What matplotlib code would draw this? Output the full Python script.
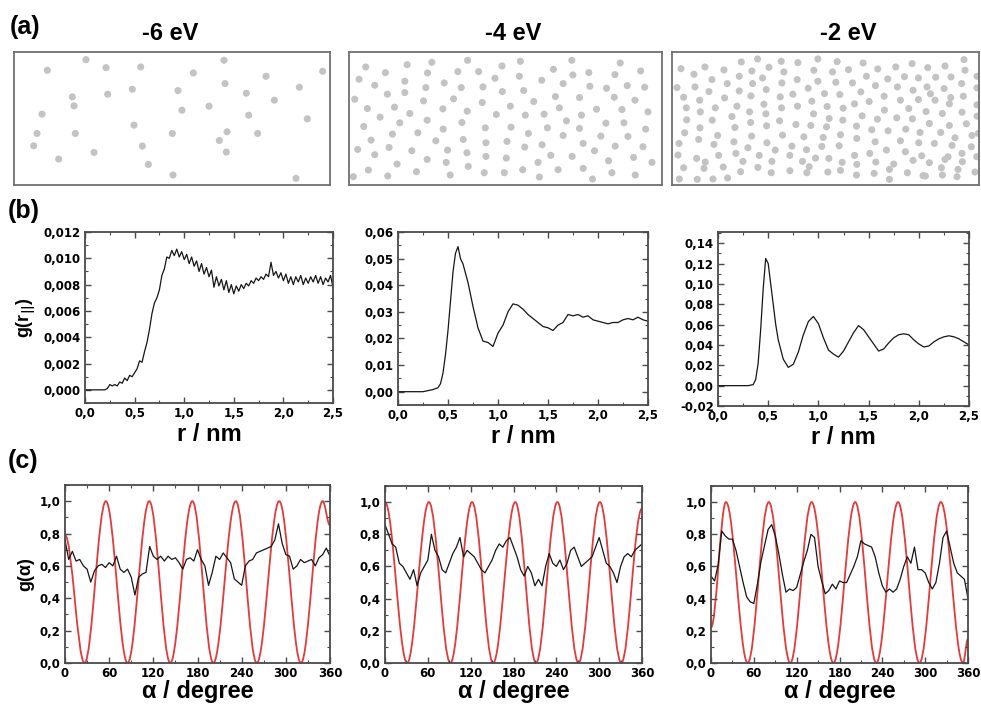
import matplotlib
matplotlib.use('Agg')
import matplotlib.pyplot as plt
from matplotlib.path import Path
from matplotlib.patches import PathPatch
from matplotlib.ticker import AutoMinorLocator

plt.rcParams['font.family'] = ['Liberation Sans', 'DejaVu Sans']
plt.rcParams['font.weight'] = 'bold'
plt.rcParams['axes.labelweight'] = 'bold'
plt.rcParams['mathtext.default'] = 'bf'

# ---- (a) particle snapshots, positions in picture units (x right, y down) ----
dots_6ev = [(142, 210), (258, 178), (318, 202), (422, 200), (580, 218), (672, 180), (798, 228), (968, 213),
            (675, 250), (898, 261), (397, 267), (534, 271), (323, 282), (739, 279), (217, 290), (823, 300),
            (222, 317), (627, 318), (546, 330), (126, 342), (746, 345), (922, 356), (402, 375),
            (111, 400), (226, 400), (517, 400), (681, 395), (773, 400), (658, 421), (101, 437), (427, 438),
            (282, 457), (679, 456), (176, 477), (445, 493), (519, 525), (888, 535)]

dots_4ev = [(78, 200), (202, 193), (276, 186), (383, 180), (486, 197), (541, 183), (695, 180), (840, 188),
            (137, 217), (263, 218), (354, 214), (416, 214), (640, 207), (698, 224), (746, 217), (824, 223), (901, 212),
            (58, 237), (195, 243), (465, 234), (538, 228), (605, 240),
            (105, 255), (258, 262), (313, 248), (364, 262), (429, 260), (669, 250), (749, 258), (799, 264), (861, 256), (913, 261),
            (143, 282), (195, 277), (487, 274), (551, 271), (646, 289),
            (45, 297), (251, 302), (341, 296), (427, 307), (581, 304), (718, 292), (822, 291), (884, 300),
            (83, 325), (164, 321), (309, 326), (511, 318), (658, 323), (769, 327), (845, 328), (923, 335),
            (210, 340), (382, 333), (469, 343), (556, 345), (612, 342), (724, 345), (121, 351),
            (180, 368), (262, 360), (366, 367), (679, 362), (797, 369), (851, 368),
            (72, 379), (310, 387), (436, 383), (513, 381), (622, 383), (718, 385), (916, 387),
            (158, 402), (234, 398), (565, 400), (669, 406), (782, 408), (863, 409),
            (94, 420), (288, 422), (370, 418), (438, 428), (501, 424), (729, 430), (825, 438),
            (54, 448), (148, 442), (216, 452), (323, 450), (554, 441), (606, 434), (763, 452), (908, 440),
            (105, 464), (381, 458), (438, 469), (499, 474), (632, 466), (696, 469), (880, 472),
            (172, 492), (262, 478), (319, 487), (385, 499), (594, 487), (805, 482), (935, 487),
            (86, 510), (230, 515), (548, 509), (654, 509), (729, 505), (815, 518), (885, 525),
            (41, 530), (144, 528), (331, 525), (433, 518), (493, 518), (598, 531), (757, 537)]

dots_2ev = [(228, 185), (277, 176), (348, 183), (398, 187), (458, 176), (516, 184), (594, 188), (692, 200),
            (741, 190), (788, 202), (840, 197), (897, 178),
            (47, 205), (119, 200), (176, 209), (260, 212), (311, 201), (356, 215), (446, 210), (502, 215),
            (550, 208), (638, 206), (900, 210),
            (86, 222), (222, 228), (292, 233), (396, 238), (458, 243), (604, 228), (668, 236), (718, 229),
            (760, 233), (812, 231), (858, 230), (936, 228),
            (140, 238), (186, 250), (350, 248), (262, 250), (512, 246), (562, 248), (631, 256), (697, 260),
            (786, 260), (837, 265), (890, 250),
            (35, 262), (89, 260), (131, 274), (222, 272), (303, 268), (429, 264), (478, 280), (524, 283),
            (587, 275), (744, 270), (796, 281), (936, 263),
            (55, 291), (103, 300), (178, 293), (257, 287), (345, 290), (383, 282), (657, 288), (706, 300),
            (857, 292), (895, 288),
            (215, 318), (296, 312), (440, 303), (486, 319), (568, 311), (612, 304), (760, 298), (810, 300),
            (853, 311), (936, 314),
            (63, 323), (150, 323), (105, 335), (253, 335), (349, 323), (397, 318), (534, 324), (658, 330),
            (731, 325), (783, 334), (891, 336),
            (200, 349), (302, 341), (445, 341), (591, 347), (637, 357), (695, 353), (742, 356), (832, 340), (936, 348),
            (64, 359), (141, 360), (256, 367), (343, 362), (392, 373), (492, 355), (533, 360), (793, 370),
            (853, 376), (904, 371),
            (104, 383), (209, 382), (304, 377), (437, 376), (484, 380), (574, 378), (620, 389), (669, 392),
            (722, 387), (765, 397), (827, 397), (940, 400),
            (58, 398), (157, 406), (259, 408), (352, 405), (416, 410), (526, 404), (474, 412), (870, 413), (921, 406),
            (41, 430), (100, 418), (206, 425), (305, 428), (380, 438), (575, 415), (630, 425), (706, 422),
            (761, 428), (808, 430), (861, 436), (919, 440),
            (146, 433), (248, 443), (330, 450), (424, 449), (470, 439), (522, 437), (664, 450), (721, 455), (891, 460),
            (38, 465), (94, 475), (160, 466), (212, 460), (282, 466), (374, 466), (451, 474), (491, 475),
            (568, 466), (614, 460), (770, 467), (849, 470), (935, 470),
            (120, 486), (233, 484), (320, 484), (412, 484), (531, 487), (575, 493), (632, 486), (686, 492),
            (744, 481), (793, 488), (840, 478), (892, 485),
            (55, 503), (116, 505), (174, 501), (226, 515), (278, 502), (374, 512), (432, 500), (488, 516),
            (526, 511), (627, 520), (673, 508), (727, 518), (781, 528), (829, 503), (879, 508), (930, 516),
            (42, 537), (96, 538), (143, 537), (187, 534), (318, 518), (425, 518), (574, 525), (673, 538),
            (774, 527), (832, 525), (876, 530)]

energies = ['-6 eV', '-4 eV', '-2 eV']

# ---- (b) radial distribution g(r||) ----
r1 = [0.000, 0.025, 0.050, 0.075, 0.100, 0.125, 0.150, 0.175, 0.200, 0.225,
      0.250, 0.275, 0.300, 0.325, 0.350, 0.375, 0.400, 0.425, 0.450, 0.475,
      0.500, 0.525, 0.550, 0.575, 0.600, 0.625, 0.650, 0.675, 0.700, 0.725,
      0.750, 0.775, 0.800, 0.825, 0.850, 0.875, 0.900, 0.925, 0.950, 0.975,
      1.000, 1.025, 1.050, 1.075, 1.100, 1.125, 1.150, 1.175, 1.200, 1.225,
      1.250, 1.275, 1.300, 1.325, 1.350, 1.375, 1.400, 1.425, 1.450, 1.475,
      1.500, 1.525, 1.550, 1.575, 1.600, 1.625, 1.650, 1.675, 1.700, 1.725,
      1.750, 1.775, 1.800, 1.825, 1.850, 1.875, 1.900, 1.925, 1.950, 1.975,
      2.000, 2.025, 2.050, 2.075, 2.100, 2.125, 2.150, 2.175, 2.200, 2.225,
      2.250, 2.275, 2.300, 2.325, 2.350, 2.375, 2.400, 2.425, 2.450, 2.475, 2.500]
g1 = [0.0, 0.0, 0.0, 0.0, 0.0, 0.0, 0.0, 0.0, 0.0, 0.0001,
      0.0004, 0.0003, 0.0004, 0.0003, 0.0006, 0.0005, 0.0009, 0.0007, 0.0011, 0.0010,
      0.0013, 0.0016, 0.0022, 0.0021, 0.0029, 0.0036, 0.0046, 0.0058, 0.0066, 0.0070,
      0.0076, 0.0087, 0.0092, 0.0101, 0.0100, 0.0106, 0.0102, 0.0107, 0.0101, 0.0105,
      0.0099, 0.0103, 0.0096, 0.0101, 0.0094, 0.0098, 0.0090, 0.0096, 0.0088, 0.0093,
      0.0086, 0.0091, 0.0078, 0.0086, 0.0079, 0.0084, 0.0076, 0.0083, 0.0074, 0.0080,
      0.0073, 0.0079, 0.0075, 0.0080, 0.0077, 0.0081, 0.0079, 0.0083, 0.0081, 0.0085,
      0.0083, 0.0086, 0.0084, 0.0088, 0.0086, 0.0097, 0.0087, 0.0090, 0.0085, 0.0089,
      0.0083, 0.0088, 0.0081, 0.0086, 0.0080, 0.0086, 0.0082, 0.0087, 0.0080, 0.0085,
      0.0081, 0.0086, 0.0082, 0.0087, 0.0081, 0.0086, 0.0080, 0.0085, 0.0082, 0.0087, 0.0078]

r2 = [0.00, 0.05, 0.10, 0.15, 0.20, 0.25, 0.30, 0.35, 0.40, 0.425, 0.45, 0.475, 0.50, 0.525,
      0.55, 0.575, 0.60, 0.625, 0.65, 0.70, 0.75, 0.80, 0.85, 0.90, 0.95, 1.00, 1.05, 1.10,
      1.15, 1.20, 1.25, 1.30, 1.35, 1.40, 1.45, 1.50, 1.55, 1.60, 1.65, 1.70, 1.75, 1.80,
      1.85, 1.90, 1.95, 2.00, 2.05, 2.10, 2.15, 2.20, 2.25, 2.30, 2.35, 2.40, 2.45, 2.50]
g2 = [0.0, 0.0, 0.0, 0.0, 0.0, 0.0, 0.0004, 0.0008, 0.0015, 0.003, 0.007, 0.014, 0.023, 0.034,
      0.045, 0.052, 0.0545, 0.050, 0.048, 0.041, 0.032, 0.024, 0.019, 0.0185, 0.017, 0.022, 0.025, 0.030,
      0.033, 0.0325, 0.031, 0.029, 0.0275, 0.026, 0.0245, 0.024, 0.023, 0.025, 0.026, 0.029, 0.0285, 0.029,
      0.028, 0.0285, 0.027, 0.0265, 0.026, 0.0255, 0.026, 0.026, 0.027, 0.0275, 0.027, 0.028, 0.027, 0.0265]

r3 = [0.00, 0.05, 0.10, 0.15, 0.20, 0.25, 0.30, 0.35, 0.375, 0.40, 0.425, 0.45, 0.475, 0.50,
      0.525, 0.55, 0.575, 0.60, 0.65, 0.70, 0.75, 0.80, 0.85, 0.90, 0.95, 1.00, 1.05, 1.10,
      1.15, 1.20, 1.25, 1.30, 1.35, 1.40, 1.45, 1.50, 1.55, 1.60, 1.65, 1.70, 1.75, 1.80,
      1.85, 1.90, 1.95, 2.00, 2.05, 2.10, 2.15, 2.20, 2.25, 2.30, 2.35, 2.40, 2.45, 2.50]
g3 = [0.0, 0.0, 0.0, 0.0, 0.0, 0.0, 0.0, 0.001, 0.006, 0.022, 0.055, 0.095, 0.125, 0.120,
      0.100, 0.080, 0.060, 0.045, 0.026, 0.018, 0.021, 0.033, 0.050, 0.063, 0.068, 0.061, 0.047, 0.035,
      0.031, 0.028, 0.034, 0.043, 0.052, 0.059, 0.055, 0.048, 0.041, 0.034, 0.036, 0.042, 0.047, 0.050,
      0.051, 0.050, 0.045, 0.041, 0.038, 0.039, 0.043, 0.046, 0.048, 0.049, 0.048, 0.046, 0.043, 0.040]

r_ticks = [0.0, 0.5, 1.0, 1.5, 2.0, 2.5]
r_ticklabels = ['0,0', '0,5', '1,0', '1,5', '2,0', '2,5']
b_yticks = [[0.000, 0.002, 0.004, 0.006, 0.008, 0.010, 0.012],
            [0.00, 0.01, 0.02, 0.03, 0.04, 0.05, 0.06],
            [-0.02, 0.00, 0.02, 0.04, 0.06, 0.08, 0.10, 0.12, 0.14]]
b_yticklabels = [['0,000', '0,002', '0,004', '0,006', '0,008', '0,010', '0,012'],
                 ['0,00', '0,01', '0,02', '0,03', '0,04', '0,05', '0,06'],
                 ['-0,02', '0,00', '0,02', '0,04', '0,06', '0,08', '0,10', '0,12', '0,14']]
b_ylims = [(-0.001, 0.012), (-0.005, 0.06), (-0.02, 0.151)]

# ---- (c) angular distribution g(alpha) ----
alpha = [0, 5, 10, 15, 20, 25, 30, 35, 40, 45, 50, 55, 60, 65, 70, 75, 80, 85, 90, 95,
         100, 105, 110, 115, 120, 125, 130, 135, 140, 145, 150, 155, 160, 165, 170, 175,
         180, 185, 190, 195, 200, 205, 210, 215, 220, 225, 230, 235, 240, 245, 250, 255,
         260, 265, 270, 275, 280, 285, 290, 295, 300, 305, 310, 315, 320, 325, 330, 335,
         340, 345, 350, 355, 360]
ga1 = [0.76, 0.64, 0.69, 0.63, 0.64, 0.60, 0.58, 0.50, 0.57, 0.60, 0.61, 0.59, 0.62, 0.60, 0.66, 0.58, 0.56, 0.58, 0.53, 0.42,
       0.53, 0.55, 0.56, 0.72, 0.66, 0.64, 0.66, 0.63, 0.66, 0.64, 0.65, 0.62, 0.58, 0.64, 0.65, 0.63,
       0.70, 0.64, 0.60, 0.48, 0.56, 0.66, 0.64, 0.68, 0.65, 0.62, 0.52, 0.50, 0.48, 0.60, 0.63, 0.64,
       0.68, 0.69, 0.70, 0.71, 0.72, 0.76, 0.86, 0.74, 0.67, 0.66, 0.58, 0.60, 0.64, 0.62, 0.63, 0.64,
       0.60, 0.65, 0.67, 0.71, 0.66]
ga2 = [0.86, 0.80, 0.74, 0.72, 0.62, 0.60, 0.56, 0.52, 0.58, 0.48, 0.56, 0.60, 0.64, 0.80, 0.70, 0.66, 0.58, 0.56, 0.62, 0.68,
       0.72, 0.78, 0.66, 0.70, 0.68, 0.66, 0.62, 0.58, 0.56, 0.60, 0.64, 0.70, 0.74, 0.72, 0.76, 0.78,
       0.72, 0.66, 0.58, 0.54, 0.60, 0.56, 0.48, 0.52, 0.48, 0.60, 0.68, 0.62, 0.60, 0.64, 0.58, 0.62,
       0.70, 0.72, 0.66, 0.60, 0.62, 0.64, 0.66, 0.72, 0.78, 0.70, 0.62, 0.60, 0.56, 0.50, 0.60, 0.66,
       0.68, 0.66, 0.70, 0.72, 0.74]
ga3 = [0.54, 0.51, 0.61, 0.82, 0.79, 0.77, 0.77, 0.70, 0.60, 0.50, 0.41, 0.38, 0.37, 0.49, 0.63, 0.73, 0.83, 0.86, 0.79, 0.68,
       0.55, 0.44, 0.46, 0.45, 0.47, 0.55, 0.63, 0.70, 0.80, 0.78, 0.60, 0.51, 0.43, 0.45, 0.49, 0.46,
       0.51, 0.50, 0.50, 0.55, 0.60, 0.66, 0.76, 0.74, 0.73, 0.72, 0.66, 0.56, 0.48, 0.44, 0.46, 0.44,
       0.46, 0.52, 0.60, 0.66, 0.62, 0.72, 0.58, 0.58, 0.56, 0.50, 0.46, 0.50, 0.62, 0.78, 0.82, 0.72,
       0.62, 0.56, 0.54, 0.52, 0.40]

# red reference curve: turning points (angle, value)
ref1_a = [0, 26.5, 55.5, 85, 114.5, 143, 173, 201.5, 232, 260.5, 291, 320.5, 350, 360]
ref1_v = [0.79, 0, 1, 0, 1, 0, 1, 0, 1, 0, 1, 0, 1, 0.85]
ref2_a = [0, 31, 61.5, 91.5, 122, 151.5, 182.5, 211.5, 241.5, 271, 301, 331, 360]
ref2_v = [1, 0, 1, 0, 1, 0, 1, 0, 1, 0, 1, 0, 0.96]
ref3_a = [0, 21, 51.4, 81, 111, 141, 171.5, 202, 231.5, 262, 292, 322, 353, 360]
ref3_v = [0.22, 1, 0, 1, 0, 1, 0, 1, 0, 1, 0, 1, 0, 0.15]

alpha_ticks = [0, 60, 120, 180, 240, 300, 360]
c_yticks = [0.0, 0.2, 0.4, 0.6, 0.8, 1.0]
c_yticklabels = ['0,0', '0,2', '0,4', '0,6', '0,8', '1,0']

W, H = 981, 706
fig = plt.figure(figsize=(W / 100, H / 100), dpi=100)


def px_axes(left, top, right, bottom):
    return fig.add_axes([left / W, 1 - bottom / H, (right - left) / W, (bottom - top) / H])


def style_frame(ax):
    for s in ax.spines.values():
        s.set_color('#4a4a4a')
        s.set_linewidth(1.3)
    ax.xaxis.set_minor_locator(AutoMinorLocator(2))
    ax.yaxis.set_minor_locator(AutoMinorLocator(2))
    ax.tick_params(which='both', direction='in', top=True, right=True, color='#4a4a4a')
    ax.tick_params(which='major', length=4, width=1.0, labelsize=8.5, pad=3,
                   labelfontfamily='DejaVu Sans')
    ax.tick_params(which='minor', length=2, width=0.8)


def smooth_path(xs, ys):
    # cubic segments between turning points (horizontal tangents)
    verts = [(xs[0], ys[0])]
    codes = [Path.MOVETO]
    for x0, y0, x1, y1 in zip(xs[:-1], ys[:-1], xs[1:], ys[1:]):
        dx = x1 - x0
        verts += [(x0 + 0.364 * dx, y0), (x1 - 0.364 * dx, y1), (x1, y1)]
        codes += [Path.CURVE4] * 3
    return Path(verts, codes)


# (a)
boxes = [(14, 330, (42, 990), 170), (349, 662, (28, 965), 513), (672, 979, (20, 942), 848)]
for (left, right, xlim, tx), dots, title in zip(boxes, [dots_6ev, dots_4ev, dots_2ev], energies):
    ax = px_axes(left, 52, right, 185)
    xs, ys = zip(*dots)
    ax.scatter(xs, ys, s=26, color='#c3c3c3', edgecolors='none')
    ax.set_xlim(*xlim)
    ax.set_ylim(555, 155)
    ax.set_xticks([])
    ax.set_yticks([])
    for s in ax.spines.values():
        s.set_color('#707070')
        s.set_linewidth(1.3)
    fig.text(tx / W, 1 - 34 / H, title, ha='center', va='center', fontsize=17)

# (b)
b_frames = [(85, 232, 333, 403), (398, 232, 648, 405), (718, 232, 969, 406)]
for i, (frame, r, g) in enumerate(zip(b_frames, [r1, r2, r3], [g1, g2, g3])):
    ax = px_axes(*frame)
    ax.plot(r, g, color='#151515', lw=0.9)
    ax.set_xlim(0, 2.5)
    ax.set_ylim(*b_ylims[i])
    ax.set_xticks(r_ticks)
    ax.set_xticklabels(r_ticklabels)
    ax.set_yticks(b_yticks[i])
    ax.set_yticklabels(b_yticklabels[i])
    style_frame(ax)
    ax.set_xlabel('r / nm', fontsize=17, labelpad=2)
    if i == 0:
        ax.set_ylabel(r'g(r$_{||}$)', fontsize=13, labelpad=4)

# (c)
c_frames = [(65, 485, 330, 663), (385, 486, 642, 663), (711, 486, 968, 663)]
refs = [(ref1_a, ref1_v), (ref2_a, ref2_v), (ref3_a, ref3_v)]
for i, (frame, ga, ref) in enumerate(zip(c_frames, [ga1, ga2, ga3], refs)):
    ax = px_axes(*frame)
    ax.add_patch(PathPatch(smooth_path(*ref), fill=False, edgecolor='#e23b3b', lw=1.3))
    ax.plot(alpha, ga, color='#151515', lw=0.9)
    ax.set_xlim(0, 360)
    ax.set_ylim(0, 1.1)
    ax.set_xticks(alpha_ticks)
    ax.set_yticks(c_yticks)
    ax.set_yticklabels(c_yticklabels)
    style_frame(ax)
    ax.set_xlabel('α / degree', fontsize=17, labelpad=0)
    if i == 0:
        ax.set_ylabel('g(α)', fontsize=13, labelpad=4)

fig.text(10 / W, 1 - 27 / H, '(a)', ha='left', va='center', fontsize=18)
fig.text(8 / W, 1 - 211 / H, '(b)', ha='left', va='center', fontsize=18)
fig.text(8 / W, 1 - 461 / H, '(c)', ha='left', va='center', fontsize=18)

fig.savefig('out.png', dpi=100)
